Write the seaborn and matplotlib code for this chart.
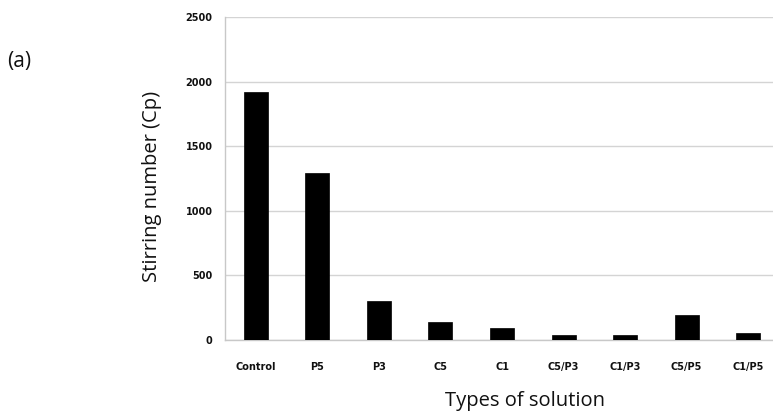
import matplotlib
matplotlib.use("Agg")
import matplotlib.pyplot as plt
import seaborn as sns
import numpy as np
import pandas as pd

categories = ["Control", "P5", "P3", "C5", "C1", "C5/P3", "C1/P3", "C5/P5", "C1/P5"]
stirring_cp = [1920, 1290, 302, 140, 90, 40, 35, 195, 58]
y_ticks = [0, 500, 1000, 1500, 2000, 2500]

df = pd.DataFrame({"solution": categories, "cp": stirring_cp})

sns.set_theme(style="white")
plt.rcParams["font.family"] = ["DejaVu Sans"]

W, H = 773, 413
fig = plt.figure(figsize=(W / 100, H / 100), dpi=100)
ax = fig.add_axes([225 / W, 73 / H, 554 / W, 323 / H])

sns.barplot(data=df, x="solution", y="cp", color="black", width=0.39,
            edgecolor="black", linewidth=0.5, saturation=1, ax=ax, zorder=3)

ax.set_ylim(0, 2500)
ax.set_xlim(-0.5, len(categories) - 0.5)
ax.set_yticks(y_ticks)
ax.set_yticklabels([str(v) for v in y_ticks], fontsize=7, fontweight="bold")
ax.set_xticks(range(len(categories)))
ax.set_xticklabels(categories, fontsize=7, fontweight="bold")
ax.grid(axis="y", color="#d4d4d4", linewidth=1.0, zorder=0)

# category boundary ticks on the x axis
ax.set_xticks(np.arange(-0.5, len(categories), 1.0), minor=True)
ax.tick_params(axis="x", which="major", length=0, pad=16, labelcolor="#111111")
ax.tick_params(axis="x", which="minor", length=4, width=0.8, color="#c8c8c8", direction="out")
ax.tick_params(axis="y", which="major", length=3, width=0.8, color="#c8c8c8", pad=6,
               labelcolor="#111111")

for side in ["top", "right"]:
    ax.spines[side].set_visible(False)
for side in ["left", "bottom"]:
    ax.spines[side].set_color("#c8c8c8")
    ax.spines[side].set_linewidth(1.0)

ax.set_xlabel("")
ax.set_ylabel("")
fig.text(525 / W, 1 - 401 / H, "Types of solution", fontsize=14.5, family="Open Sans",
         ha="center", va="center", color="#111111")
fig.text(152 / W, 1 - 186 / H, "Stirring number (Cp)", fontsize=14.5, family="Open Sans",
         ha="center", va="center", rotation=90, color="#111111")
fig.text(7 / W, 1 - 61 / H, "(a)", fontsize=15, family="Open Sans", va="center", ha="left",
         color="#111111")

fig.savefig("out.png", dpi=100)
